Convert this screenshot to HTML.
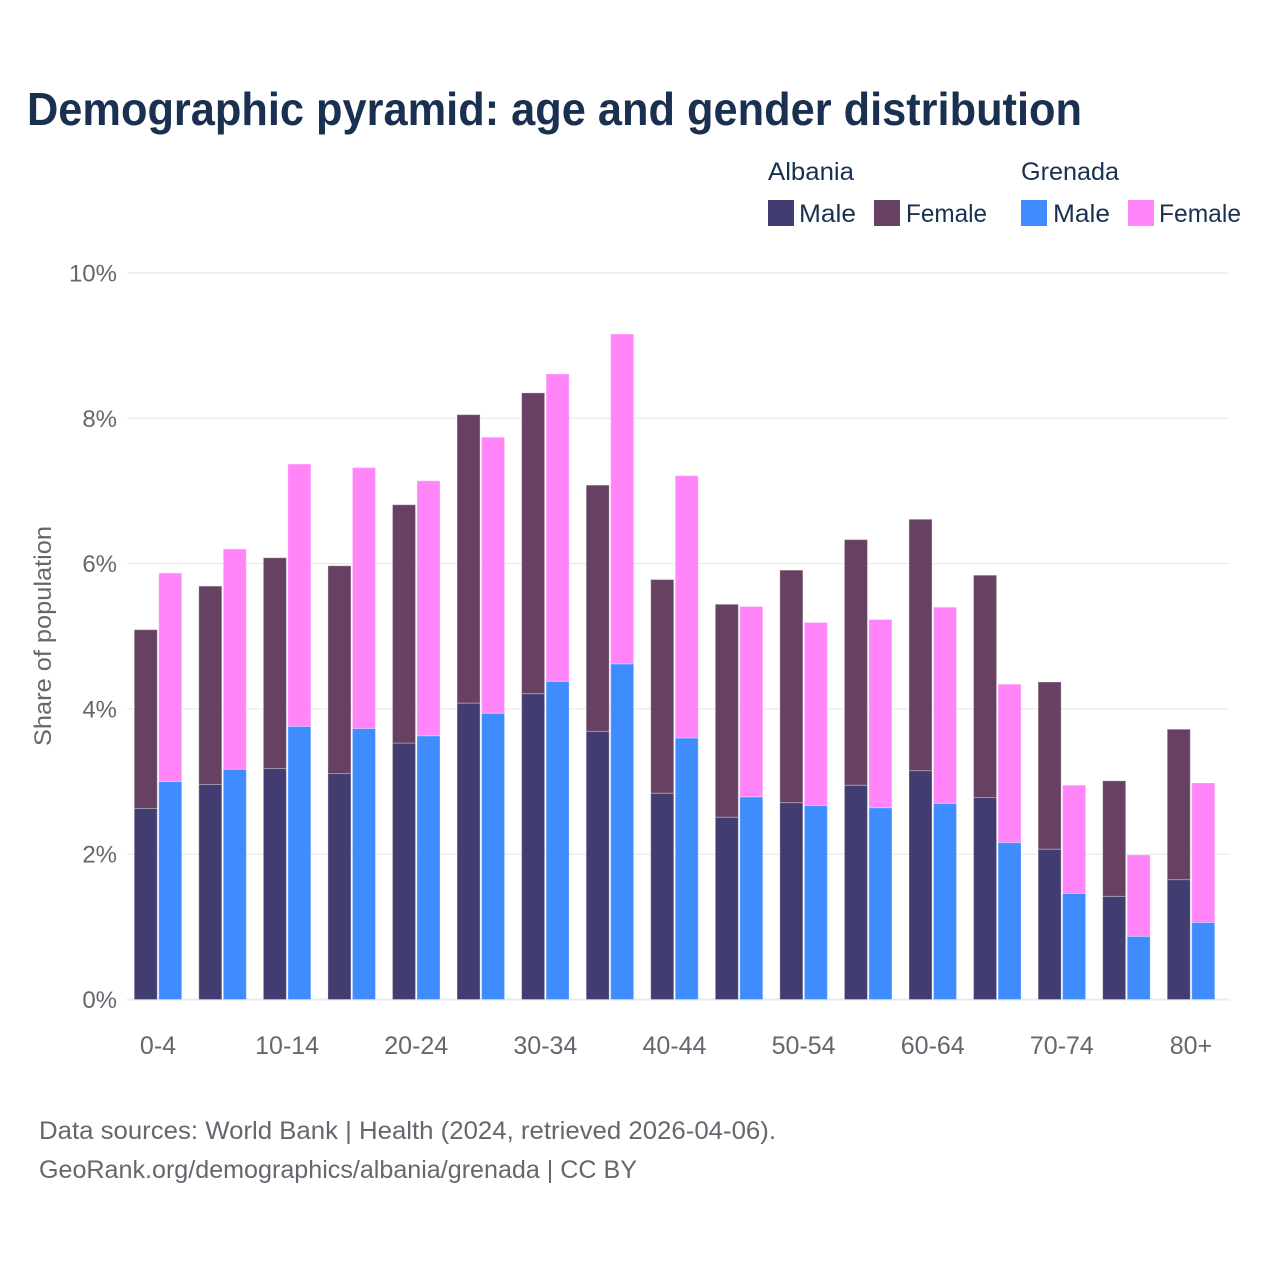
<!DOCTYPE html>
<html lang="en">
<head>
<meta charset="utf-8">
<title>Demographic pyramid</title>
<style>
html,body{margin:0;padding:0;background:#fff;width:1280px;height:1280px;overflow:hidden}
svg{display:block}
text{font-family:"Liberation Sans",sans-serif}
</style>
</head>
<body>
<svg id="chart" xmlns="http://www.w3.org/2000/svg" width="1280" height="1280" viewBox="0 0 1280 1280">
  <rect x="0" y="0" width="1280" height="1280" fill="#ffffff"/>
  <text x="27" y="125" font-size="46" font-weight="700" fill="#1a3050" textLength="1055" lengthAdjust="spacingAndGlyphs">Demographic pyramid: age and gender distribution</text>

  <g font-size="25" fill="#1a3050">
    <text x="768" y="180" textLength="86" lengthAdjust="spacingAndGlyphs">Albania</text>
    <rect x="768" y="200" width="26" height="26" fill="#413d70"/>
    <text x="799" y="222" textLength="57" lengthAdjust="spacingAndGlyphs">Male</text>
    <rect x="874" y="200" width="26" height="26" fill="#674161"/>
    <text x="906" y="222" textLength="81" lengthAdjust="spacingAndGlyphs">Female</text>
    <text x="1021" y="180" textLength="98" lengthAdjust="spacingAndGlyphs">Grenada</text>
    <rect x="1021" y="200" width="26" height="26" fill="#3f8cff"/>
    <text x="1053" y="222" textLength="57" lengthAdjust="spacingAndGlyphs">Male</text>
    <rect x="1128" y="200" width="26" height="26" fill="#ff85f8"/>
    <text x="1159" y="222" textLength="82" lengthAdjust="spacingAndGlyphs">Female</text>
  </g>

  <g id="grid"></g>
  <g id="yticks"></g>
  <g id="bars"></g>
  <g id="xticks"></g>

  <text transform="translate(51,746) rotate(-90)" x="0" y="0" font-size="24" fill="#66666e" textLength="220" lengthAdjust="spacingAndGlyphs">Share of population</text>

  <text x="39" y="1139" font-size="25" fill="#66666e" textLength="737" lengthAdjust="spacingAndGlyphs">Data sources: World Bank | Health (2024, retrieved 2026-04-06).</text>
  <text x="39" y="1178" font-size="25" fill="#66666e" textLength="598" lengthAdjust="spacingAndGlyphs">GeoRank.org/demographics/albania/grenada | CC BY</text>
</svg>
<script>
const ageGroups = ["0-4","5-9","10-14","15-19","20-24","25-29","30-34","35-39","40-44","45-49","50-54","55-59","60-64","65-69","70-74","75-79","80+"];
const visibleAgeLabels = ["0-4","10-14","20-24","30-34","40-44","50-54","60-64","70-74","80+"];
const albaniaMale = [2.63,2.96,3.18,3.11,3.53,4.08,4.21,3.69,2.84,2.51,2.71,2.95,3.15,2.78,2.07,1.42,1.65];
const albaniaFemale = [2.46,2.73,2.90,2.86,3.28,3.97,4.14,3.39,2.94,2.93,3.20,3.38,3.46,3.06,2.30,1.59,2.07];
const grenadaMale = [3.00,3.17,3.76,3.73,3.63,3.94,4.38,4.62,3.60,2.79,2.67,2.64,2.70,2.16,1.46,0.87,1.06];
const grenadaFemale = [2.87,3.03,3.61,3.59,3.51,3.80,4.23,4.54,3.61,2.62,2.52,2.59,2.70,2.18,1.49,1.12,1.92];
const yTicks = [0,2,4,6,8,10];

const NS = "http://www.w3.org/2000/svg";
const plotLeft = 127, plotRight = 1229;
const yZero = 999.5, yTen = 273;
const firstCenter = 158, lastCenter = 1191;
const barWidth = 23;
const barGap = 1.5;

function yScale(v) {
  return yZero - (v / 10) * (yZero - yTen);
}
function xScale(i) {
  return firstCenter + (i / (ageGroups.length - 1)) * (lastCenter - firstCenter);
}

const grid = document.getElementById("grid");
const yLabels = document.getElementById("yticks");
yTicks.forEach(function (t) {
  const line = document.createElementNS(NS, "line");
  
  
  line.setAttribute("x1", plotLeft);
  line.setAttribute("x2", plotRight);
  line.setAttribute("y1", yScale(t));
  line.setAttribute("y2", yScale(t));
  line.setAttribute("stroke", t === 0 ? "#e9e9f2" : "#e6e6e6");
  line.setAttribute("stroke-width", t === 0 ? 2 : 1);
  grid.appendChild(line);

  const label = document.createElementNS(NS, "text");
  
  
  label.setAttribute("x", 117);
  label.setAttribute("y", yScale(t) + 8.5);
  label.setAttribute("text-anchor", "end");
  label.setAttribute("font-size", "24");
  label.setAttribute("fill", "#66666e");
  label.textContent = t + "%";
  yLabels.appendChild(label);
});

const barsGroup = document.getElementById("bars");
function addBar(x, base, value, color) {
  const rect = document.createElementNS(NS, "rect");
  
  
  rect.setAttribute("x", x);
  rect.setAttribute("y", yScale(base + value));
  rect.setAttribute("width", barWidth);
  rect.setAttribute("height", yScale(base) - yScale(base + value));
  rect.setAttribute("fill", color);
  rect.setAttribute("stroke", "#ffffff");
  rect.setAttribute("stroke-opacity", "0.3");
  rect.setAttribute("stroke-width", "1");
  barsGroup.appendChild(rect);
}
ageGroups.forEach(function (g, i) {
  const cx = xScale(i);
  const ax = cx - barGap / 2 - barWidth;
  const gx = cx + barGap / 2;
  addBar(ax, 0, albaniaMale[i], "#413d70");
  addBar(ax, albaniaMale[i], albaniaFemale[i], "#674161");
  addBar(gx, 0, grenadaMale[i], "#3f8cff");
  addBar(gx, grenadaMale[i], grenadaFemale[i], "#ff85f8");
});

const xLabels = document.getElementById("xticks");
ageGroups.forEach(function (g, i) {
  if (visibleAgeLabels.indexOf(g) < 0) return;
  const label = document.createElementNS(NS, "text");
  
  
  label.setAttribute("x", xScale(i));
  label.setAttribute("y", 1054);
  label.setAttribute("text-anchor", "middle");
  label.setAttribute("font-size", "25");
  label.setAttribute("fill", "#66666e");
  label.textContent = g;
  xLabels.appendChild(label);
});
</script>
</body>
</html>
